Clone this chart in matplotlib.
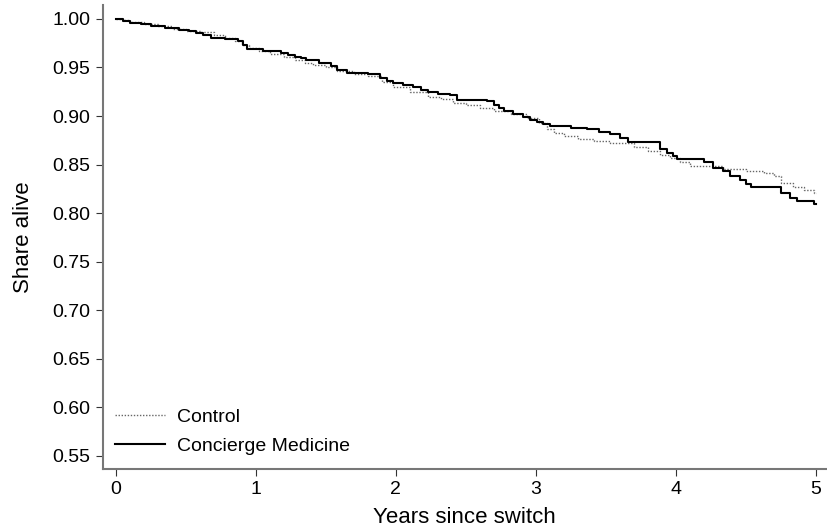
import matplotlib
matplotlib.use("Agg")
from matplotlib import pyplot as plt

plt.rcParams['font.family'] = ['Liberation Sans', 'DejaVu Sans']

# Kaplan-Meier style survival
t_cm = [0.00, 0.05, 0.10, 0.18, 0.25, 0.35, 0.45, 0.52, 0.57, 0.62, 0.68, 0.78, 0.87,
        0.91, 0.94, 1.05, 1.18, 1.23, 1.28, 1.32, 1.36, 1.45, 1.54, 1.58, 1.65, 1.80,
        1.89, 1.94, 1.98, 2.05, 2.12, 2.18, 2.23, 2.30, 2.39, 2.44, 2.65, 2.70, 2.74,
        2.77, 2.84, 2.91, 2.96, 3.01, 3.05, 3.10, 3.25, 3.37, 3.45, 3.53, 3.60, 3.66,
        3.89, 3.94, 3.98, 4.01, 4.20, 4.27, 4.34, 4.39, 4.46, 4.50, 4.54, 4.75, 4.82,
        4.87, 4.99, 5.00]
s_cm = [1.000, 0.998, 0.996, 0.995, 0.993, 0.991, 0.989, 0.987, 0.985, 0.983, 0.980, 0.979, 0.977,
        0.973, 0.969, 0.967, 0.965, 0.963, 0.961, 0.960, 0.958, 0.955, 0.951, 0.947, 0.944, 0.943,
        0.939, 0.936, 0.934, 0.932, 0.930, 0.927, 0.925, 0.923, 0.922, 0.916, 0.9156, 0.911, 0.908,
        0.905, 0.902, 0.899, 0.896, 0.894, 0.892, 0.890, 0.888, 0.887, 0.884, 0.881, 0.877, 0.873,
        0.866, 0.862, 0.859, 0.8555, 0.8524, 0.846, 0.843, 0.838, 0.834, 0.830, 0.8267, 0.8205, 0.8154,
        0.8126, 0.8095, 0.8095]

t_ctrl = [0.00, 0.05, 0.10, 0.20, 0.30, 0.40, 0.50, 0.60, 0.70, 0.78, 0.85, 0.90, 0.95,
          1.02, 1.10, 1.20, 1.28, 1.35, 1.41, 1.50, 1.58, 1.70, 1.80, 1.90, 1.98, 2.10,
          2.23, 2.32, 2.41, 2.50, 2.60, 2.70, 2.82, 2.94, 3.02, 3.08, 3.13, 3.20, 3.30,
          3.42, 3.53, 3.70, 3.80, 3.89, 3.96, 4.03, 4.10, 4.34, 4.50, 4.63, 4.70, 4.75,
          4.84, 4.92, 4.99, 5.00]
s_ctrl = [1.000, 0.999, 0.997, 0.995, 0.993, 0.990, 0.988, 0.986, 0.983, 0.980, 0.977, 0.973, 0.970,
          0.967, 0.964, 0.961, 0.958, 0.955, 0.953, 0.950, 0.946, 0.943, 0.941, 0.935, 0.930, 0.925,
          0.920, 0.917, 0.9135, 0.911, 0.908, 0.9056, 0.902, 0.898, 0.893, 0.887, 0.882, 0.879, 0.876,
          0.874, 0.872, 0.8685, 0.864, 0.860, 0.8566, 0.853, 0.8486, 0.845, 0.843, 0.841, 0.838, 0.8315,
          0.8267, 0.824, 0.821, 0.821]

yticks = [0.55, 0.60, 0.65, 0.70, 0.75, 0.80, 0.85, 0.90, 0.95, 1.00]
xticks = [0, 1, 2, 3, 4, 5]

fig = plt.figure(figsize=(8.27, 5.31), dpi=100)
ax = fig.add_axes([0.1245, 0.1168, 0.875, 0.874])

ax.plot(t_ctrl, s_ctrl, drawstyle='steps-post', color='#666666', lw=1.0,
        linestyle=(0, (1, 1.2)), label='Control')
ax.plot(t_cm, s_cm, drawstyle='steps-post', color='black', lw=1.5,
        label='Concierge Medicine')

ax.set_xlim(-0.093, 5.079)
ax.set_ylim(0.5366, 1.0144)
ax.set_yticks(yticks)
ax.set_yticklabels(['%.2f' % v for v in yticks])
ax.set_xticks(xticks)

for side in ['top', 'right']:
    ax.spines[side].set_visible(False)
for side in ['left', 'bottom']:
    ax.spines[side].set_color('#777777')
    ax.spines[side].set_linewidth(1.5)
ax.tick_params(direction='out', length=5, width=0.8, color='#333333',
               labelsize=14, pad=4)

ax.set_xlabel('Years since switch', fontsize=16, labelpad=6)
ax.set_ylabel('Share alive', fontsize=16, labelpad=13)

ax.legend(loc='lower left', frameon=False, fontsize=14, handlelength=2.6,
          handletextpad=0.6, labelspacing=0.6, borderaxespad=0.2,
          bbox_to_anchor=(0.0, 0.005))

fig.savefig('out.png', dpi=100)
